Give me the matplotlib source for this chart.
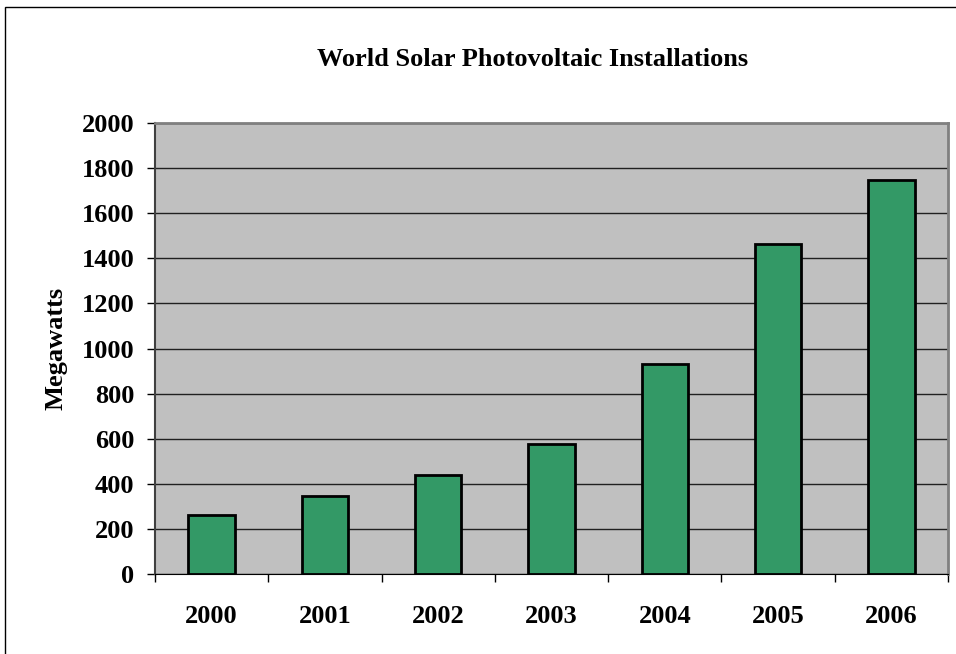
import matplotlib.pyplot as plt
from matplotlib.patches import Rectangle

# annual world PV installations, megawatts
years = ['2000', '2001', '2002', '2003', '2004', '2005', '2006']
megawatts = [262, 348, 437, 575, 931, 1463, 1747]
yticks = [0, 200, 400, 600, 800, 1000, 1200, 1400, 1600, 1800, 2000]

plt.rcParams['font.family'] = ['Liberation Serif', 'DejaVu Serif']
plt.rcParams['font.weight'] = 'bold'

W, H = 956, 654
fig = plt.figure(figsize=(W / 100, H / 100), dpi=100)
fig.patch.set_facecolor('white')

# plot area in pixels: left 155, right 948, top 123, bottom 574
ax = fig.add_axes([155 / W, 1 - 574 / H, (948 - 155) / W, (574 - 123) / H])
ax.set_facecolor('#C0C0C0')

x = range(len(years))
ax.bar(x, megawatts, width=0.41, color='#339966', edgecolor='black', linewidth=2, zorder=3)

ax.set_xlim(-0.5, len(years) - 0.5)
ax.set_ylim(0, 2000)
ax.set_yticks(yticks)
ax.set_yticklabels([str(v) for v in yticks], fontsize=19, fontweight='bold')
ax.yaxis.grid(True, color='#202020', linewidth=1, zorder=1)

# category labels centred on bars, tick marks between categories
ax.set_xticks([i - 0.5 for i in range(len(years) + 1)])
ax.set_xticklabels([])
ax.set_xticks(list(x), minor=True)
ax.set_xticklabels(years, minor=True, fontsize=19, fontweight='bold')
ax.tick_params(axis='x', which='major', direction='out', length=6, width=1, color='black')
ax.tick_params(axis='x', which='minor', length=0, pad=22)
ax.tick_params(axis='y', direction='out', length=6, width=1, color='black', pad=9)

for side in ['top', 'right']:
    ax.spines[side].set_color('#808080')
    ax.spines[side].set_linewidth(2)
ax.spines['left'].set_color('#404040')
ax.spines['left'].set_linewidth(1.5)
ax.spines['bottom'].set_color('black')

ax.set_ylabel('Megawatts', fontsize=19, fontweight='bold', labelpad=10)

fig.text(533 / W, 1 - 60 / H, 'World Solar Photovoltaic Installations',
         ha='center', va='center', fontsize=19, fontweight='bold')

# outer chart border
fig.patches.append(Rectangle((5 / W, -0.05), 1.2, 1 - 7 / H + 0.05,
                             transform=fig.transFigure, fill=False,
                             edgecolor='black', linewidth=1))

fig.savefig('out.png', dpi=100)
